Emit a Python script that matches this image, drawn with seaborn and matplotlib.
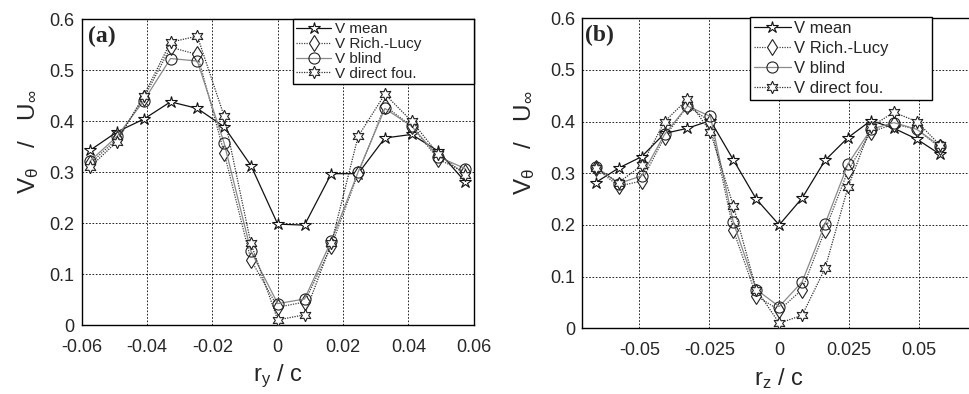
import numpy as np
import pandas as pd
import matplotlib
matplotlib.use("Agg")
import matplotlib.pyplot as plt
import seaborn as sns

# ---------------- data ----------------
step = 0.0082
k_a = list(range(-7, 8))
k_b = list(range(-8, 8))

a_mean = [0.343, 0.379, 0.404, 0.438, 0.425, 0.389, 0.313, 0.198, 0.196, 0.297, 0.297, 0.367, 0.374, 0.341, 0.281]
a_rl = [0.317, 0.365, 0.445, 0.545, 0.531, 0.338, 0.128, 0.035, 0.045, 0.155, 0.297, 0.430, 0.390, 0.325, 0.300]
a_blind = [0.322, 0.370, 0.440, 0.523, 0.518, 0.357, 0.145, 0.042, 0.051, 0.165, 0.300, 0.425, 0.390, 0.330, 0.307]
a_df = [0.310, 0.360, 0.450, 0.555, 0.567, 0.410, 0.160, 0.010, 0.020, 0.160, 0.370, 0.453, 0.400, 0.335, 0.295]

b_mean = [0.282, 0.310, 0.332, 0.377, 0.387, 0.402, 0.326, 0.250, 0.200, 0.252, 0.325, 0.369, 0.402, 0.387, 0.366, 0.337]
b_rl = [0.310, 0.275, 0.285, 0.370, 0.430, 0.400, 0.190, 0.063, 0.035, 0.075, 0.190, 0.305, 0.380, 0.395, 0.385, 0.350]
b_blind = [0.313, 0.280, 0.295, 0.375, 0.430, 0.410, 0.205, 0.075, 0.042, 0.090, 0.202, 0.318, 0.385, 0.398, 0.385, 0.353]
b_df = [0.310, 0.282, 0.315, 0.400, 0.443, 0.380, 0.237, 0.075, 0.010, 0.025, 0.116, 0.273, 0.390, 0.418, 0.400, 0.355]

labels = ["V mean", "V Rich.-Lucy", "V blind", "V direct fou."]
xticks_a = [-0.06, -0.04, -0.02, 0, 0.02, 0.04, 0.06]
xticklabels_a = ["-0.06", "-0.04", "-0.02", "0", "0.02", "0.04", "0.06"]
xticks_b = [-0.05, -0.025, 0, 0.025, 0.05]
xticklabels_b = ["-0.05", "-0.025", "0", "0.025", "0.05"]
yticks = [0, 0.1, 0.2, 0.3, 0.4, 0.5, 0.6]
yticklabels = ["0", "0.1", "0.2", "0.3", "0.4", "0.5", "0.6"]

# ---------------- style ----------------
sns.set_style("white")
plt.rcParams["font.family"] = ["Liberation Sans", "DejaVu Sans"]
plt.rcParams["mathtext.fontset"] = "custom"
plt.rcParams["mathtext.rm"] = "Liberation Sans"
plt.rcParams["mathtext.it"] = "Liberation Sans"

styles = [
    dict(color="#111111", ls="-", lw=0.9, marker="*", ms=9, mfc="white", mec="#111111", mew=0.8),
    dict(color="#444444", ls=(0, (1, 1)), lw=0.9, marker="d", ms=8, mfc="white", mec="#222222", mew=0.8),
    dict(color="#8a8a8a", ls="-", lw=0.9, marker="o", ms=8, mfc="none", mec="#222222", mew=0.8),
    dict(color="#333333", ls=(0, (1, 1)), lw=0.9, marker=(6, 1, 0), ms=9, mfc="white", mec="#222222", mew=0.8),
]

W, H = 970, 394
fig = plt.figure(figsize=(9.7, 3.94), dpi=100)
ax_a = fig.add_axes([0.0842, 0.1751, 0.4042, 0.776])
ax_b = fig.add_axes([0.6003, 0.1668, 0.4060, 0.787])


def draw(ax, ks, series):
    x = np.array(ks) * step
    for lab, vals, st in zip(labels, series, styles):
        df = pd.DataFrame({"x": x, "y": vals})
        sns.lineplot(data=df, x="x", y="y", ax=ax, sort=False, label=lab,
                     color=st["color"], linestyle=st["ls"], linewidth=st["lw"],
                     marker=st["marker"], markersize=st["ms"],
                     markerfacecolor=st["mfc"], markeredgecolor=st["mec"],
                     markeredgewidth=st["mew"], zorder=3)


draw(ax_a, k_a, [a_mean, a_rl, a_blind, a_df])
draw(ax_b, k_b, [b_mean, b_rl, b_blind, b_df])

ylab = r"V$_\theta$   /   U$_\infty$"
for ax in (ax_a, ax_b):
    ax.set_ylim(0, 0.6)
    ax.set_yticks(yticks)
    ax.set_yticklabels(yticklabels)
    ax.grid(True, color="black", linestyle=(0, (2, 2)), linewidth=0.6)
    ax.tick_params(axis="both", labelsize=13, direction="in", length=3, color="black")
    ax.tick_params(axis="y", pad=5)
    ax.tick_params(axis="x", pad=10)
    for s in ax.spines.values():
        s.set_color("black")
        s.set_linewidth(1.0)
    ax.set_ylabel(ylab, fontsize=17.5)

ax_a.yaxis.set_label_coords(-0.104, 0.6)
ax_b.yaxis.set_label_coords(-0.115, 0.6)

ax_a.set_xlim(-0.06, 0.06)
ax_a.set_xticks(xticks_a)
ax_a.set_xticklabels(xticklabels_a)
ax_a.set_xlabel(r"r$_\mathregular{y}$ / c", fontsize=17, labelpad=5)

ax_b.set_xlim(-0.0704, 0.0704)
ax_b.set_xticks(xticks_b)
ax_b.set_xticklabels(xticklabels_b)
ax_b.set_xlabel(r"r$_\mathregular{z}$ / c", fontsize=17, labelpad=5)

ax_a.text(0.017, 0.943, "(a)", transform=ax_a.transAxes, ha="left", va="center",
          fontsize=17, fontweight="bold", family=["Liberation Serif", "DejaVu Serif"])
ax_b.text(0.007, 0.943, "(b)", transform=ax_b.transAxes, ha="left", va="center",
          fontsize=17, fontweight="bold", family=["Liberation Serif", "DejaVu Serif"])

leg_a = ax_a.legend(loc="upper left",
                    bbox_to_anchor=(293.3 / W, 1 - 19.3 / H, 180.5 / W, 0),
                    bbox_transform=fig.transFigure, mode="expand", fontsize=11,
                    frameon=True, fancybox=False, edgecolor="black", framealpha=1,
                    labelspacing=0.05, borderpad=0.2, handlelength=2.3,
                    handletextpad=0.2, borderaxespad=0)
leg_a.get_frame().set_linewidth(1.0)

leg_b = ax_b.legend(loc="upper left",
                    bbox_to_anchor=(750 / W, 1 - 16.7 / H, 181.7 / W, 0),
                    bbox_transform=fig.transFigure, mode="expand", fontsize=12,
                    frameon=True, fancybox=False, edgecolor="black", framealpha=1,
                    labelspacing=0.3, borderpad=0.25, handlelength=2.2,
                    handletextpad=0.2, borderaxespad=0)
leg_b.get_frame().set_linewidth(1.0)

fig.savefig("out.png", dpi=100)
